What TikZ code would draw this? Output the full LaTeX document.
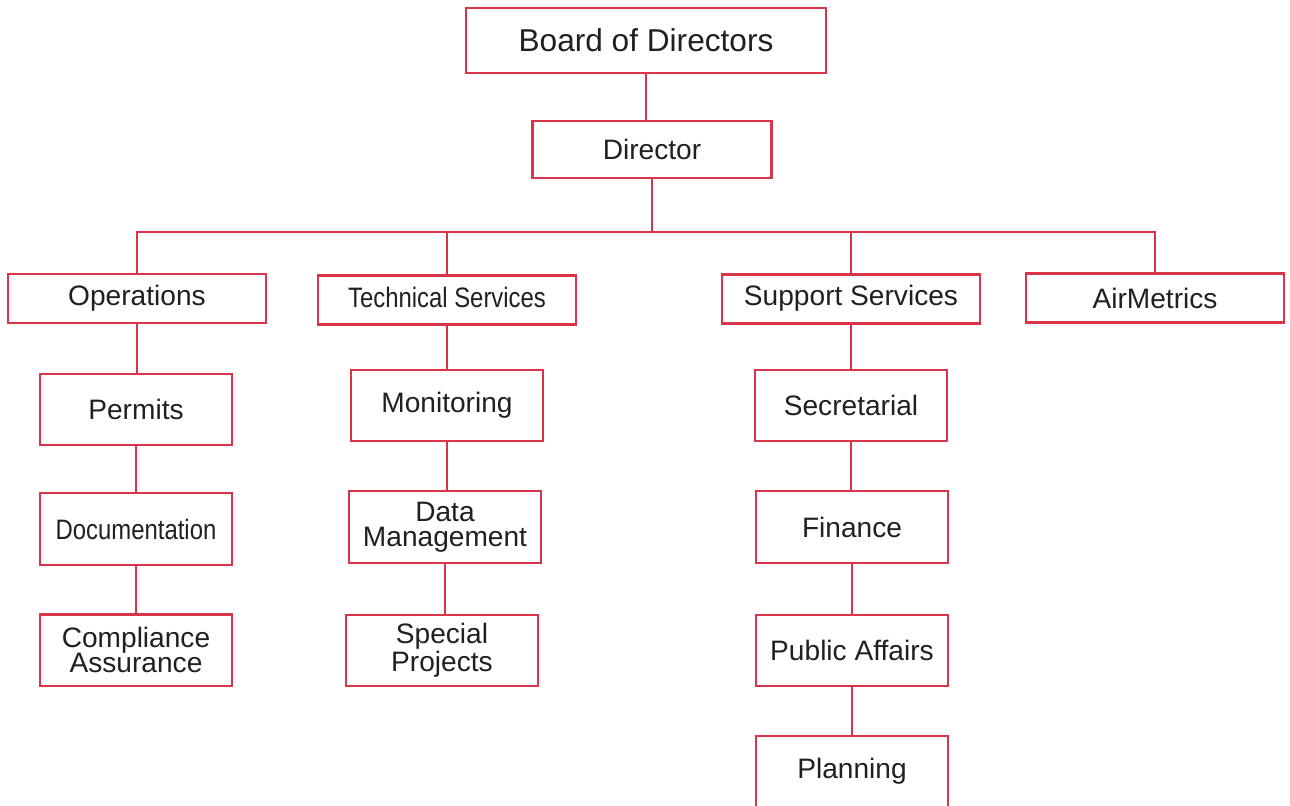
\documentclass[tikz,border=0pt]{standalone}
\usepackage{fontspec}
\setmainfont{Liberation Sans}
\newfontfamily\narrowfont[FakeStretch=0.85]{Liberation Sans}
\usepackage{tikz}
\usetikzlibrary{positioning}
\definecolor{orgred}{RGB}{218,52,74}
\definecolor{orgtext}{RGB}{35,31,32}

\begin{document}
\begin{tikzpicture}[
            x=0.02cm, y=-0.02cm,
            box/.style={rectangle, draw=orgred, line width=1.4pt, fill=white, text=orgtext,
                align=center, inner sep=0pt, font=\fontsize{16}{14.5}\selectfont},
            topbox/.style={box, minimum width=7.2cm, minimum height=1.3cm, font=\fontsize{18}{18}\selectfont},
            chiefbox/.style={box, minimum width=4.78cm, minimum height=1.14cm},
            deptbox/.style={box, minimum width=5.17cm, minimum height=0.98cm},
            unitbox/.style={box, minimum width=3.84cm, minimum height=1.43cm},
            link/.style={draw=orgred, line width=1.4pt}
        ]
        \useasboundingbox (0,0) rectangle (1290,805);

        % Top level
        \node[topbox] (board) at (646,40.5) {Board of Directors};
        \node[chiefbox] (director) at (652,149.5) {Director};

        % Departments
        \node[deptbox] (ops) at (137,298.5) {Operations};
        \node[deptbox, text depth=3.5pt] (tech) at (447,300) {\narrowfont Technical Services};
        \node[deptbox, text depth=4.5pt] (support) at (851,299) {Support Services};
        \node[deptbox] (air) at (1155,298) {AirMetrics};

        % Operations units
        \node[unitbox] (permits) at (136,409.5) {Permits};
        \node[unitbox] (docs) at (136,529) {\narrowfont Documentation};
        \node[unitbox] (compliance) at (136,650) {Compliance\\Assurance};

        % Technical Services units
        \node[unitbox] (monitoring) at (447,405.5) {Monitoring};
        \node[unitbox] (data) at (445,527) {Data\\Management};
        \node[unitbox] (special) at (442,650.5) {Special\\Projects};

        % Support Services units
        \node[unitbox] (secretarial) at (851,405.5) {Secretarial};
        \node[unitbox] (finance) at (852,527) {Finance};
        \node[unitbox] (public) at (852,650.5) {Public Affairs};
        \node[unitbox] (planning) at (852,771.5) {Planning};

        % Connections
        \coordinate (bus) at (0,232);
        \draw[link] (board.south) -- (board.south |- director.north);
        \draw[link] (director.south) -- (director.south |- bus);
        \draw[link] (ops.north) |- (bus -| air.north) -- (air.north);
        \draw[link] (tech.north) -- (tech.north |- bus);
        \draw[link] (support.north) -- (support.north |- bus);

        % Chains below the departments
        \foreach \upper/\lower in {ops/permits, permits/docs, docs/compliance,
                tech/monitoring, monitoring/data, data/special,
                support/secretarial, secretarial/finance, finance/public, public/planning}
            \draw[link] (\upper.south) -- (\upper.south |- \lower.north);

    \end{tikzpicture}
\end{document}
